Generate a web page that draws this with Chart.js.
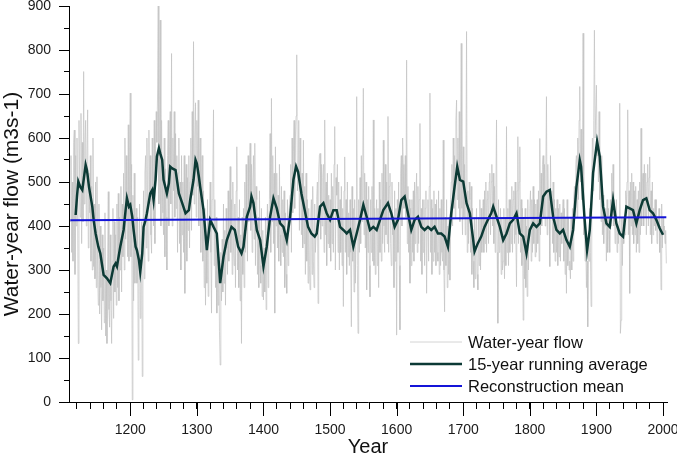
<!DOCTYPE html>
<html>
<head>
<meta charset="utf-8">
<script src="https://cdn.jsdelivr.net/npm/chart.js@4"></script>
<style>
  html, body { margin: 0; padding: 0; background: #fff; }
  #wrap { width: 677px; height: 459px; }
</style>
</head>
<body>
<div id="wrap"><canvas id="flowChart" width="677" height="459"></canvas></div>
<script>
// annual water-year flow, one value per year from firstYear
const firstYear = 1110;
const flowValues = [
  410, 560, 340, 500, 320, 590, 618, 290, 560, 400,
  600, 430, 133, 640, 500, 420, 656, 360, 590, 410,
  751, 450, 590, 640, 400, 560, 664, 350, 520, 430,
  560, 320, 490, 300, 600, 308, 450, 280, 500, 260,
  512, 300, 220, 450, 200, 400, 260, 164, 380, 230,
  350, 180, 430, 150, 300, 133, 330, 478, 210, 170,
  380, 230, 133, 320, 440, 190, 410, 250, 380, 220,
  450, 260, 474, 230, 420, 300, 490, 250, 450, 330,
  520, 300, 600, 370, 560, 410, 330, 630, 320, 500,
  702, 330, 540, 5, 470, 230, 520, 270, 380, 440,
  270, 420, 95, 300, 450, 190, 360, 410, 58, 380,
  480, 280, 520, 560, 350, 600, 420, 320, 618, 450,
  560, 380, 338, 600, 460, 400, 640, 360, 580, 660,
  590, 700, 902, 450, 540, 868, 400, 640, 520, 430,
  380, 600, 330, 530, 420, 300, 560, 640, 400, 580,
  660, 450, 792, 400, 600, 480, 660, 420, 610, 440,
  560, 340, 520, 600, 360, 500, 300, 560, 380, 500,
  340, 560, 247, 480, 540, 320, 510, 390, 560, 350,
  500, 600, 390, 660, 470, 819, 450, 600, 680, 420,
  640, 490, 686, 400, 520, 600, 340, 500, 560, 320,
  480, 260, 440, 220, 380, 270, 460, 240, 360, 420,
  500, 340, 202, 460, 520, 664, 310, 460, 260, 420,
  202, 360, 220, 330, 160, 84, 340, 230, 370, 250,
  450, 270, 390, 220, 440, 350, 290, 480, 320, 430,
  535, 340, 460, 290, 500, 350, 310, 450, 260, 480,
  580, 300, 420, 260, 460, 230, 380, 133, 420, 290,
  440, 260, 500, 340, 540, 390, 320, 560, 410, 520,
  588, 390, 540, 340, 500, 560, 370, 588, 310, 490,
  460, 290, 420, 260, 480, 310, 270, 440, 240, 390,
  232, 350, 250, 420, 210, 380, 450, 260, 400, 460,
  610, 340, 690, 410, 560, 360, 520, 202, 580, 400,
  520, 350, 470, 320, 540, 380, 310, 490, 340, 460,
  330, 480, 260, 430, 290, 247, 460, 310, 420, 450,
  470, 540, 340, 600, 430, 570, 640, 440, 600, 650,
  789, 480, 520, 640, 390, 600, 460, 380, 520, 350,
  595, 360, 490, 290, 520, 320, 460, 270, 440, 310,
  255, 420, 460, 290, 490, 320, 260, 450, 340, 380,
  460, 500, 224, 520, 560, 565, 370, 540, 400, 510,
  540, 340, 641, 380, 500, 310, 520, 360, 470, 350,
  460, 320, 520, 360, 490, 340, 540, 626, 300, 510,
  470, 540, 340, 500, 300, 460, 340, 490, 310, 440,
  217, 480, 557, 340, 460, 290, 500, 330, 430, 310,
  460, 340, 171, 490, 320, 440, 250, 460, 270, 420,
  694, 310, 156, 460, 340, 510, 360, 560, 410, 520,
  713, 380, 520, 350, 500, 255, 460, 340, 490, 310,
  239, 460, 340, 490, 320, 641, 310, 440, 290, 420,
  460, 310, 440, 260, 500, 340, 460, 320, 520, 360,
  595, 400, 340, 540, 380, 500, 360, 649, 340, 490,
  520, 360, 310, 500, 380, 420, 260, 480, 320, 440,
  152, 460, 340, 500, 310, 164, 520, 560, 400, 600,
  540, 440, 480, 560, 420, 777, 360, 490, 340, 460,
  270, 440, 310, 460, 340, 480, 320, 500, 360, 470,
  520, 340, 490, 360, 460, 633, 320, 440, 290, 460,
  340, 460, 310, 440, 480, 247, 420, 460, 320, 490,
  702, 340, 460, 290, 440, 320, 480, 340, 450, 310,
  460, 340, 320, 480, 290, 440, 310, 460, 340, 320,
  595, 300, 205, 420, 310, 460, 260, 400, 290, 420,
  277, 460, 500, 540, 400, 600, 440, 560, 420, 640,
  686, 460, 600, 440, 660, 410, 580, 815, 440, 380,
  580, 420, 540, 380, 520, 842, 340, 480, 360, 500,
  460, 340, 490, 290, 440, 320, 260, 420, 280, 390,
  440, 290, 255, 420, 310, 460, 300, 440, 340, 400,
  460, 340, 480, 360, 500, 340, 460, 480, 360, 500,
  520, 380, 500, 540, 400, 520, 360, 490, 340, 470,
  641, 340, 179, 460, 340, 390, 440, 290, 420, 300,
  320, 440, 280, 420, 310, 626, 340, 440, 310, 460,
  340, 460, 360, 490, 340, 460, 480, 360, 500, 380,
  262, 480, 603, 360, 500, 580, 340, 460, 310, 440,
  186, 420, 280, 440, 260, 400, 240, 460, 300, 420,
  440, 480, 320, 460, 340, 490, 360, 460, 330, 450,
  340, 460, 360, 480, 320, 599, 380, 520, 400, 540,
  560, 420, 540, 400, 520, 694, 380, 540, 420, 480,
  308, 560, 440, 480, 360, 500, 340, 460, 320, 440,
  340, 460, 310, 440, 330, 450, 320, 430, 360, 420,
  460, 320, 440, 290, 420, 247, 460, 310, 420, 300,
  320, 280, 420, 300, 440, 320, 460, 490, 440, 540,
  560, 420, 600, 460, 640, 717, 500, 620, 460, 500,
  838, 380, 420, 320, 370, 260, 320, 171, 370, 320,
  440, 340, 217, 520, 600, 480, 640, 845, 600, 600,
  720, 560, 600, 500, 660, 460, 520, 410, 560, 380,
  470, 360, 420, 400, 440, 320, 460, 340, 440, 390,
  340, 460, 400, 520, 420, 540, 400, 460, 360, 420,
  460, 340, 400, 360, 410, 679, 156, 186, 420, 310,
  420, 360, 400, 380, 480, 440, 500, 664, 380, 480,
  247, 500, 400, 520, 380, 500, 360, 480, 380, 490,
  340, 460, 360, 480, 340, 500, 380, 622, 400, 500,
  520, 400, 540, 420, 520, 380, 500, 540, 400, 510,
  557, 380, 480, 360, 500, 380, 440, 400, 460, 390,
  460, 360, 420, 400, 440, 340, 400, 255, 450, 350,
  420, 380, 400, 360, 390, 315
];

// 15-year running average
const avgYears = [
  1118, 1120, 1122, 1125, 1128, 1130, 1133, 1135, 1138, 1143, 1145, 1148, 1152, 1155,
  1160, 1165, 1170, 1175, 1178, 1180, 1185, 1187, 1190, 1193, 1195, 1198, 1200, 1203,
  1205, 1208, 1210, 1213, 1215, 1218, 1220, 1223, 1225, 1230, 1233, 1235, 1238, 1240,
  1243, 1245, 1248, 1250, 1255, 1258, 1260, 1263, 1268, 1273, 1278, 1283, 1288, 1290,
  1295, 1298, 1300, 1303, 1305, 1310, 1315, 1320, 1325, 1330, 1335, 1340, 1345, 1352,
  1357, 1362, 1367, 1370, 1375, 1380, 1382, 1385, 1390, 1395, 1400, 1405, 1410, 1415,
  1420, 1425, 1430, 1435, 1440, 1445, 1449, 1452, 1457, 1462, 1467, 1472, 1477, 1480,
  1485, 1490, 1495, 1500, 1505, 1510, 1515, 1520, 1525, 1530, 1535, 1540, 1545, 1550,
  1555, 1560, 1565, 1570, 1575, 1580, 1587, 1592, 1597, 1602, 1607, 1612, 1617, 1622,
  1627, 1632, 1637, 1642, 1647, 1652, 1657, 1662, 1667, 1672, 1677, 1682, 1687, 1691,
  1695, 1700, 1705, 1710, 1715, 1717, 1722, 1727, 1732, 1737, 1742, 1745, 1750, 1755,
  1760, 1765, 1770, 1775, 1780, 1785, 1790, 1795, 1800, 1805, 1810, 1815, 1820, 1825,
  1830, 1835, 1840, 1845, 1850, 1855, 1860, 1865, 1870, 1875, 1877, 1882, 1886, 1890,
  1895, 1901, 1905, 1910, 1915, 1920, 1925, 1930, 1935, 1940, 1945, 1950, 1955, 1960,
  1965, 1970, 1975, 1980, 1985, 1990, 1995, 2000
];
const avgValues = [
  425, 467, 501, 489, 482, 505, 539, 527, 489, 444, 414, 383, 353, 338,
  289, 281, 270, 308, 315, 308, 353, 368, 391, 436, 463, 444, 448, 421,
  391, 353, 345, 323, 296, 338, 398, 414, 429, 474, 482, 459, 505, 558,
  577, 565, 550, 505, 474, 497, 535, 531, 527, 474, 452, 429, 436, 459,
  505, 550, 542, 512, 489, 436, 345, 414, 398, 383, 270, 330, 368, 398,
  391, 353, 338, 353, 421, 444, 467, 452, 391, 368, 308, 353, 421, 463,
  440, 406, 398, 368, 421, 505, 535, 523, 474, 436, 398, 383, 376, 383,
  444, 452, 429, 414, 436, 436, 398, 391, 383, 391, 353, 383, 414, 448,
  421, 391, 398, 391, 414, 436, 452, 429, 398, 414, 459, 467, 429, 391,
  414, 421, 398, 391, 398, 391, 398, 383, 383, 376, 353, 429, 489, 535,
  505, 501, 452, 429, 368, 342, 361, 376, 398, 414, 429, 444, 421, 398,
  368, 383, 406, 414, 429, 383, 376, 338, 391, 406, 398, 406, 467, 478,
  482, 421, 391, 383, 391, 368, 353, 391, 489, 550, 535, 421, 345, 391,
  520, 592, 558, 444, 406, 398, 459, 406, 383, 376, 444, 440, 436, 406,
  436, 459, 463, 436, 429, 414, 395, 380
];

// reconstruction mean (end points of the straight line)
const meanYears = [1110, 2005];
const meanValues = [413, 420];

const xMin = 1108, xMax = 2006;
const yMin = 0, yMax = 900;

const flowData = flowValues.map((v, i) => ({ x: firstYear + i, y: v }));
const avgData = avgYears.map((yr, i) => ({ x: yr, y: avgValues[i] }));
const meanData = meanYears.map((yr, i) => ({ x: yr, y: meanValues[i] }));

const FONT = '"Liberation Sans", Arial, sans-serif';

// longer tick marks on the labelled (major) ticks
const majorTicks = {
  id: 'majorTicks',
  afterDraw(chart) {
    const c = chart.ctx, xs = chart.scales.x, ys = chart.scales.y;
    c.save();
    c.strokeStyle = '#000';
    c.lineWidth = 1;
    c.beginPath();
    xs.ticks.forEach(t => {
      if (t.value % 100 === 0) {
        const px = Math.round(xs.getPixelForValue(t.value)) + 0.5;
        c.moveTo(px, xs.top);
        c.lineTo(px, xs.top + 14);
      }
    });
    ys.ticks.forEach(t => {
      if (t.value % 100 === 0) {
        const py = Math.round(ys.getPixelForValue(t.value)) + 0.5;
        c.moveTo(ys.right - 10, py);
        c.lineTo(ys.right, py);
      }
    });
    c.stroke();
    c.restore();
  }
};

// legend box inside the plot, lower right
const insideLegend = {
  id: 'insideLegend',
  afterDraw(chart) {
    const c = chart.ctx;
    const items = chart.data.datasets;
    c.save();
    c.font = '16.5px ' + FONT;
    c.textBaseline = 'middle';
    c.fillStyle = '#111';
    items.forEach((ds, i) => {
      const y = 342 + i * 22;
      c.strokeStyle = ds.legendColor || ds.borderColor;
      c.lineWidth = ds.legendWidth || ds.borderWidth;
      c.beginPath();
      c.moveTo(410, y);
      c.lineTo(462, y);
      c.stroke();
      c.fillText(ds.label, 468, y + 1);
    });
    c.restore();
  }
};

const ctx = document.getElementById('flowChart').getContext('2d');
const flowChart = new Chart(ctx, {
  type: 'line',
  data: {
    datasets: [
      {
        label: 'Water-year flow',
        data: flowData,
        borderColor: '#c2c2c2',
        legendColor: '#d4d4d4',
        borderWidth: 0.7,
        legendWidth: 1,
        pointRadius: 0,
        tension: 0,
        order: 3
      },
      {
        label: '15-year running average',
        data: avgData,
        borderColor: '#0c3a35',
        borderWidth: 2.5,
        pointRadius: 0,
        tension: 0,
        order: 2
      },
      {
        label: 'Reconstruction mean',
        data: meanData,
        borderColor: '#1414d8',
        borderWidth: 2,
        pointRadius: 0,
        tension: 0,
        order: 1
      }
    ]
  },
  options: {
    responsive: false,
    animation: false,
    layout: { padding: { top: 6, right: 10, left: 0, bottom: 0 } },
    plugins: {
      legend: { display: false },
      tooltip: { enabled: false }
    },
    scales: {
      x: {
        type: 'linear',
        min: xMin,
        max: xMax,
        afterBuildTicks: scale => {
          const t = [];
          for (let v = 1120; v <= 2000; v += 20) t.push({ value: v });
          scale.ticks = t;
        },
        afterFit: scale => {
          scale.height = 57;
          scale.paddingLeft = 0;
          scale.paddingRight = 0;
        },
        grid: { drawOnChartArea: false, drawTicks: true, tickLength: 7, tickColor: '#000' },
        border: { display: true, color: '#000', width: 1 },
        ticks: {
          autoSkip: false,
          maxRotation: 0,
          padding: 13,
          color: '#1a1a1a',
          font: { family: FONT, size: 14 },
          callback: v => (v % 100 === 0 ? String(v) : '')
        },
        title: {
          display: true,
          text: 'Year',
          color: '#111',
          font: { family: FONT, size: 20 },
          padding: { top: 0, bottom: 0 }
        }
      },
      y: {
        min: yMin,
        max: yMax,
        afterFit: scale => {
          scale.width = 69;
          scale.paddingTop = 0;
          scale.paddingBottom = 0;
        },
        grid: { drawOnChartArea: false, drawTicks: true, tickLength: 5, tickColor: '#000' },
        border: { display: true, color: '#000', width: 1 },
        ticks: {
          stepSize: 50,
          autoSkip: false,
          padding: 13,
          color: '#1a1a1a',
          font: { family: FONT, size: 14 },
          callback: v => (v % 100 === 0 ? String(v) : '')
        },
        title: {
          display: true,
          text: 'Water-year flow (m3s-1)',
          color: '#111',
          font: { family: FONT, size: 21 },
          padding: { top: 0, bottom: 0 }
        }
      }
    }
  },
  plugins: [majorTicks, insideLegend]
});
</script>
</body>
</html>
